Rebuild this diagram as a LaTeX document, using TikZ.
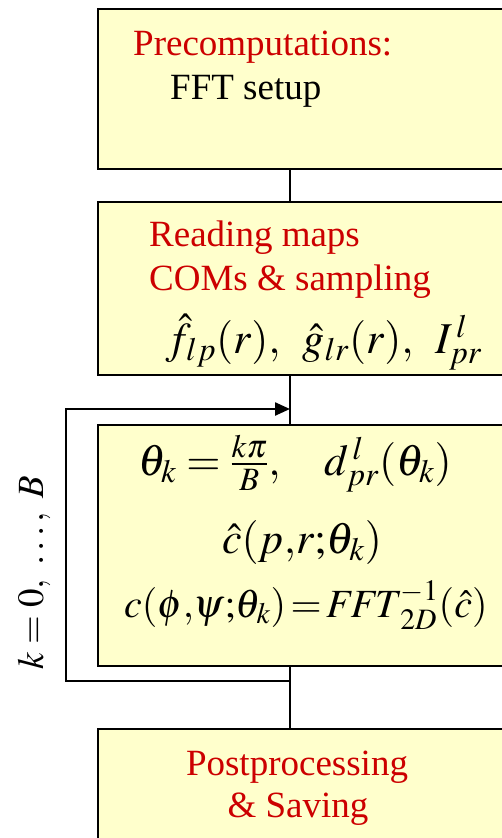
\documentclass[tikz,border=0pt]{standalone}
\usepackage{amsmath}
\usepackage{mathptmx}
\usepackage{fontspec}
\setmainfont{Liberation Serif}
\usetikzlibrary{arrows.meta,positioning}
\definecolor{boxfill}{HTML}{FFFFCC}
\definecolor{boxred}{HTML}{CC0000}
\tikzset{
  stage/.style   ={draw=black,line width=2.4pt,fill=boxfill,anchor=north west,minimum width=440pt,inner sep=0pt},
  txt/.style     ={anchor=base west,inner sep=0pt,font=\fontsize{37}{44}\selectfont},
  heading/.style ={txt,text=boxred},
  eqn/.style     ={txt,font=\fontsize{44}{50}\selectfont},
  flow/.style    ={line width=2.4pt},
  loopback/.style={line width=2.4pt,-{Triangle[length=15pt,width=13pt]}},
}

\begin{document}
\begin{tikzpicture}[x=1pt,y=-1pt]
  \useasboundingbox (0,0) rectangle (502,838);
  \clip (0,0) rectangle (502,838);
  % boxes
  \node[stage,minimum height=160pt](pre)  at (97,8){};
  \node[stage,minimum height=173pt](read) at (97,201){};
  \node[stage,minimum height=241pt](loop) at (97,424){};
  \node[stage,minimum height=180pt](post) at (97,728){};
  % texts
  \node[heading](pre1) at (133,55){Precomputations:};
  \node[txt](pre2) at (170,99){FFT setup};
  \node[heading](read1) at (149,246){Reading maps};
  \node[heading](read2) at (149,290){COMs \& sampling};
  \node[eqn](read3) at (166,353){$\hat{f}_{lp}(r){,}\ \ \hat{g}_{lr}(r){,}\ \ I^{\,l}_{pr}$};
  \node[eqn](loop1) at (138,475){$\theta_k=\frac{k\pi}{B}{,}\quad d^{\,l}_{pr}(\theta_k)$};
  \node[eqn,anchor=base](loop2) at (302,553){$\hat{c}(p{,}r{;}\theta_k)$};
  \node[eqn,font=\fontsize{40}{46}\selectfont](loop3) at (124,617){$c(\phi{,}\psi{;}\theta_k)\mathrel{\mkern-2mu=\mkern-2mu}\mathit{FFT}^{-1}_{2D}(\hat{c})$};
  \node[heading,anchor=base](post1) at (297,775){Postprocessing};
  \node[heading,anchor=base](post2) at (298,817){\& Saving};
  \node[txt,anchor=center,rotate=90,font=\fontsize{37}{44}\selectfont](krange) at (34,573){$k=0,\ \ldots,\ B$};
  % connectors
  \coordinate (spine) at (290,0);
  \coordinate (loopout) at (290,681);
  \coordinate (loopin) at (290,409);
  \coordinate (loopside) at (66,0);
  \draw[flow](pre.south -| spine)--(read.north -| spine);
  \draw[flow](read.south -| spine)--(loop.north -| spine);
  \draw[flow](loop.south -| spine)--(post.north -| spine);
  \draw[loopback](loopout)--(loopout -| loopside)--(loopin -| loopside)--(loopin);
\end{tikzpicture}
\end{document}
